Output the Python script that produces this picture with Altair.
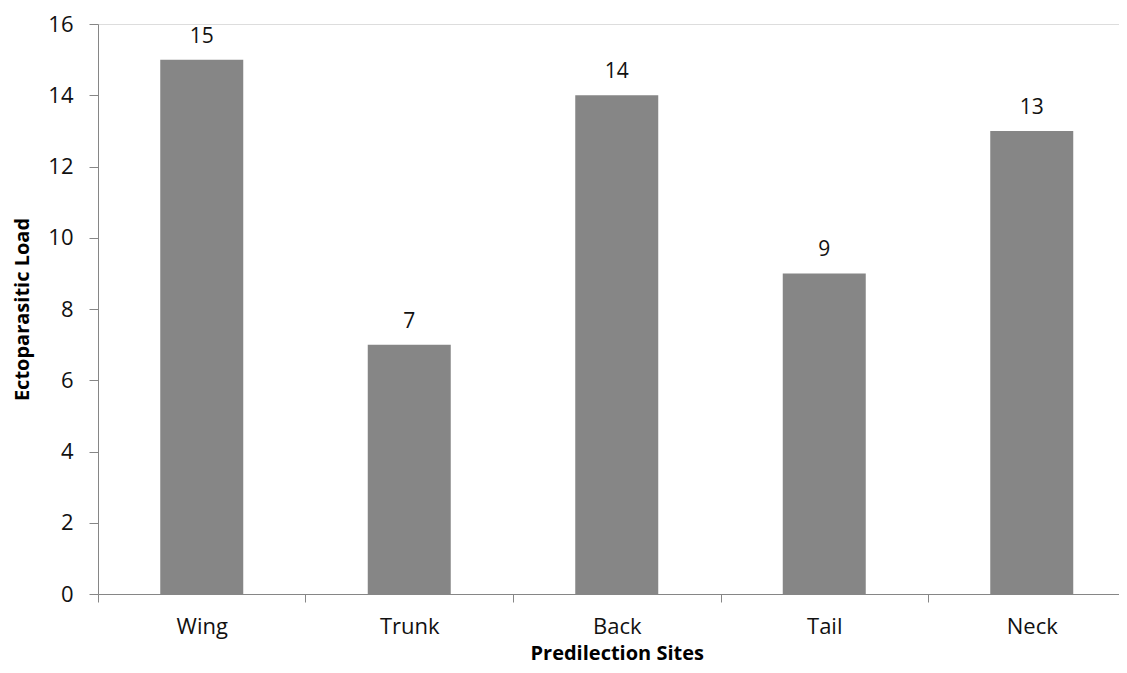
import altair as alt
import pandas as pd

sites = ["Wing", "Trunk", "Back", "Tail", "Neck"]
loads = [15, 7, 14, 9, 13]
y_ticks = [0, 2, 4, 6, 8, 10, 12, 14, 16]

df = pd.DataFrame({"site": sites, "load": loads})

FONT = "Open Sans"
BAR = "#868686"
STEP = 1037.5 / len(sites)

x = alt.X(
    "site:N",
    sort=sites,
    title="Predilection Sites",
    scale=alt.Scale(paddingInner=0.6, paddingOuter=0.3, range=[0, 1037.5]),
    axis=alt.Axis(
        labelAngle=0,
        tickOffset=-STEP / 2,
        labelOffset=STEP / 2,
        tickSize=8,
        labelPadding=31,
        labelBaseline="alphabetic",
        labelFontSize=22,
        labelFont=FONT,
        labelColor="#111111",
        domainColor=BAR,
        tickColor=BAR,
        titleFont=FONT,
        titleFontSize=20,
        titleFontWeight="bold",
        titleColor="#000000",
        titleY=65,
        titleBaseline="alphabetic",
    ),
)
y = alt.Y(
    "load:Q",
    title="Ectoparasitic Load",
    scale=alt.Scale(domain=[0, 16], nice=False),
    axis=alt.Axis(
        values=y_ticks,
        grid=False,
        tickSize=9,
        labelPadding=16,
        labelFontSize=22,
        labelFont=FONT,
        labelColor="#111111",
        domainColor=BAR,
        tickColor=BAR,
        titleFont=FONT,
        titleFontSize=20,
        titleFontWeight="bold",
        titleColor="#000000",
        titleX=-76,
        titleY=285,
        titleAngle=270,
        titleAlign="center",
        titleBaseline="middle",
    ),
)

bars = alt.Chart(df).mark_bar(color=BAR).encode(x=x, y=y)
text = alt.Chart(df).mark_text(
    baseline="alphabetic", dy=-17, fontSize=21, font=FONT, color="#111111"
).encode(x=alt.X("site:N", sort=sites), y="load:Q", text="load:Q")

chart = (
    alt.layer(bars, text)
    .properties(
        width=1021,
        height=570,
        autosize=alt.AutoSizeParams(type="none"),
        padding={"left": 90, "top": 16, "right": 0, "bottom": 71},
    )
    .configure_view(stroke=None)
    .configure(background="white")
)

chart.save("out.html", embed_options={"renderer": "svg", "actions": False})
